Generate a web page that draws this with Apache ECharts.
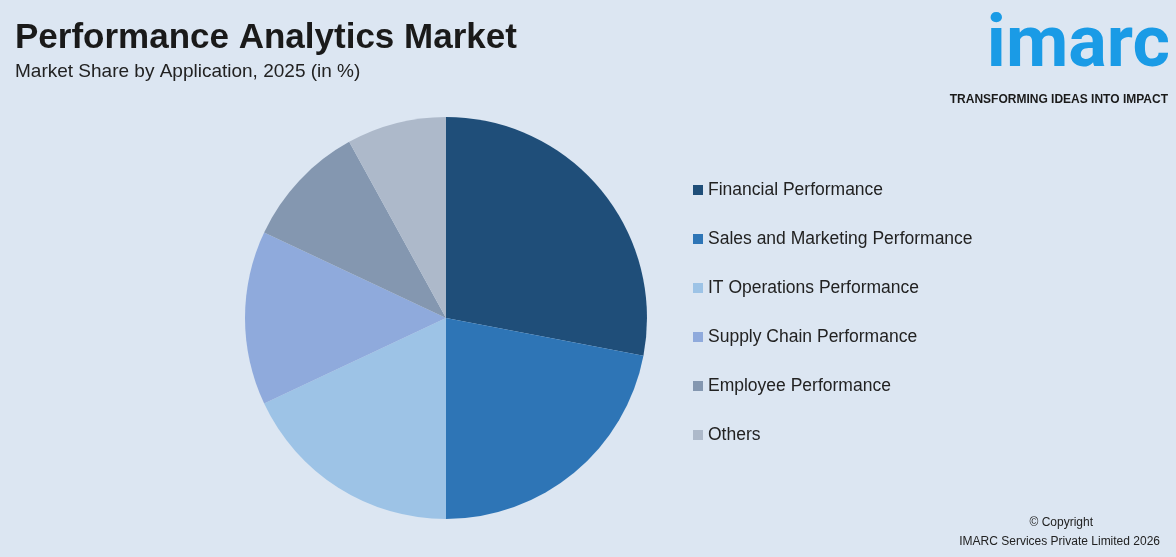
<!DOCTYPE html>
<html>
<head>
<meta charset="UTF-8">
<script src="https://cdn.jsdelivr.net/npm/echarts@6/dist/echarts.min.js"></script>
<style>html,body{margin:0;padding:0;background:#dce6f2;}</style>
</head>
<body>
<div id="container" style="width:1176px;height:557px"></div>
<script>
var categories = ['Financial Performance', 'Sales and Marketing Performance', 'IT Operations Performance',
    'Supply Chain Performance', 'Employee Performance', 'Others'];
var shares = [28, 22, 18, 14, 10, 8];
var colors = ['#1f4e79', '#2e75b6', '#9dc3e6', '#8faadc', '#8497b0', '#adb9ca'];

var chart = echarts.init(document.getElementById('container'));
var data = categories.map(function (c, i) {
    return { name: c, value: shares[i], itemStyle: { color: colors[i] } };
});

chart.setOption({
    backgroundColor: '#dce6f2',
    animation: false,
    title: {
        text: 'Performance Analytics Market',
        subtext: 'Market Share by Application, 2025 (in %)',
        left: 10, top: 16, itemGap: 6,
        textStyle: { fontFamily: 'Liberation Sans', fontWeight: 'bold', fontSize: 35, color: '#1a1a1a' },
        subtextStyle: { fontFamily: 'Liberation Sans', fontSize: 19, color: '#222' }
    },
    legend: {
        orient: 'vertical', left: 688, top: 176, itemGap: 31,
        itemWidth: 10, itemHeight: 10, icon: 'rect',
        textStyle: { fontFamily: 'Liberation Sans', fontSize: 17.5, color: '#222' },
        data: categories
    },
    graphic: [
        { type: 'text', right: 6, top: 12, style: { text: 'imarc', font: 'bold 72px Roboto', fill: '#1a9be6' } },
        { type: 'text', right: 8, top: 94, style: { text: 'TRANSFORMING IDEAS INTO IMPACT', font: 'bold 12px Liberation Sans', fill: '#1a1a1a' } },
        { type: 'text', right: 83, top: 517, style: { text: '© Copyright', font: '12px Liberation Sans', fill: '#222' } },
        { type: 'text', right: 16, top: 536, style: { text: 'IMARC Services Private Limited 2026', font: '12px Liberation Sans', fill: '#222' } }
    ],
    series: [{
        type: 'pie',
        center: [446, 318],
        radius: 201,
        startAngle: 90,
        clockwise: true,
        label: { show: false },
        labelLine: { show: false },
        data: data
    }]
});
</script>
</body>
</html>
